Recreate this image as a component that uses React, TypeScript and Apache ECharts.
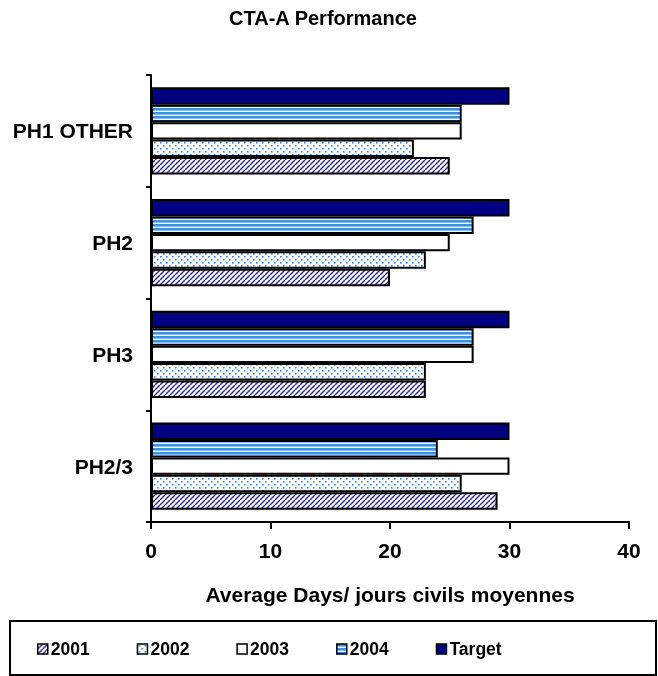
import React, { useEffect, useRef } from "react";
import * as echarts from "echarts";

const categories = ["PH1 OTHER", "PH2", "PH3", "PH2/3"];
const values2001 = [25, 20, 23, 29];
const values2002 = [22, 23, 23, 26];
const values2003 = [26, 25, 27, 30];
const values2004 = [26, 27, 27, 24];
const valuesTarget = [30, 30, 30, 30];
const legendNames = ["2001", "2002", "2003", "2004", "Target"];
const xTicks = { min: 0, max: 40, interval: 10 };

const FONT = "'Liberation Sans', Arial, sans-serif";

function makeTile(w: number, h: number, draw: (c: CanvasRenderingContext2D) => void) {
  const cv = document.createElement("canvas");
  cv.width = w;
  cv.height = h;
  const ctx = cv.getContext("2d")!;
  ctx.fillStyle = "#ffffff";
  ctx.fillRect(0, 0, w, h);
  draw(ctx);
  return { image: cv, repeat: "repeat", imageWidth: w, imageHeight: h } as any;
}

export default function App() {
  const ref = useRef<HTMLDivElement>(null);
  useEffect(() => {
    if (!ref.current) return;
    const chart = echarts.init(ref.current, null, { renderer: "svg" });

    const hatch = makeTile(5, 5, (c) => {
      c.strokeStyle = "#2a2a90";
      c.lineWidth = 1.4;
      for (const o of [-5, 0, 5]) {
        c.beginPath();
        c.moveTo(o, 5);
        c.lineTo(o + 5, 0);
        c.stroke();
      }
    });
    const dots = makeTile(6, 6, (c) => {
      c.fillStyle = "#2f86e6";
      c.fillRect(1, 1, 1.6, 1.6);
      c.fillRect(4, 4, 1.6, 1.6);
    });
    const stripes = makeTile(4, 4, (c) => {
      c.fillStyle = "#4090e2";
      c.fillRect(0, 0, 4, 2.6);
    });

    const border = { borderColor: "#000", borderWidth: 2 };
    const mk = (name: string, data: number[], color: any) => ({
      name,
      type: "bar",
      data,
      barGap: "0%",
      barCategoryGap: "22%",
      itemStyle: { color, ...border },
      emphasis: { disabled: true },
    });

    // within each group: first series is drawn at top
    const series = [
      mk("Target", valuesTarget, "#000080"),
      mk("2004", values2004, stripes),
      mk("2003", values2003, "#ffffff"),
      mk("2002", values2002, dots),
      mk("2001", values2001, hatch),
    ];

    chart.setOption({
      animation: false,
      graphic: [
        {
          type: "text",
          x: 323,
          y: 18,
          style: {
            text: "CTA-A Performance",
            font: `bold 20px ${FONT}`,
            fill: "#000",
            textAlign: "center",
            textVerticalAlign: "middle",
          },
        },
        {
          type: "rect",
          shape: { x: 10, y: 621, width: 646, height: 54 },
          style: { fill: "none", stroke: "#000", lineWidth: 2 },
          z: 10,
        },
      ],
      grid: { left: 151, top: 75, width: 478, height: 447, containLabel: false },
      legend: {
        data: legendNames,
        left: 32,
        top: 635,
        itemWidth: 10,
        itemHeight: 10,
        itemGap: 47,
        icon: "rect",
        itemStyle: { borderColor: "#000", borderWidth: 1.5 },
        textStyle: { fontFamily: FONT, fontWeight: "bold", fontSize: 17.5, color: "#000", padding: [0, 0, 0, -2] },
        selectedMode: false,
      },
      xAxis: {
        type: "value",
        min: xTicks.min,
        max: xTicks.max,
        interval: xTicks.interval,
        name: "Average Days/ jours civils moyennes",
        nameLocation: "middle",
        nameGap: 62,
        nameTextStyle: { fontFamily: FONT, fontWeight: "bold", fontSize: 21, color: "#000", verticalAlign: "top" },
        axisLine: { show: true, lineStyle: { color: "#000", width: 2 } },
        axisTick: { show: true, length: 7, lineStyle: { color: "#000", width: 2 } },
        axisLabel: { margin: 18, fontFamily: FONT, fontWeight: "bold", fontSize: 21, color: "#000" },
        splitLine: { show: false },
      },
      yAxis: {
        type: "category",
        data: categories,
        inverse: true,
        axisLine: { show: true, lineStyle: { color: "#000", width: 2 } },
        axisTick: { show: true, length: 5, lineStyle: { color: "#000", width: 2 } },
        axisLabel: { margin: 18, fontFamily: FONT, fontWeight: "bold", fontSize: 21, color: "#000" },
      },
      series,
    });
    return () => chart.dispose();
  }, []);
  return <div ref={ref} style={{ position: "fixed", left: 0, top: 0, width: 658, height: 676 }} />;
}
